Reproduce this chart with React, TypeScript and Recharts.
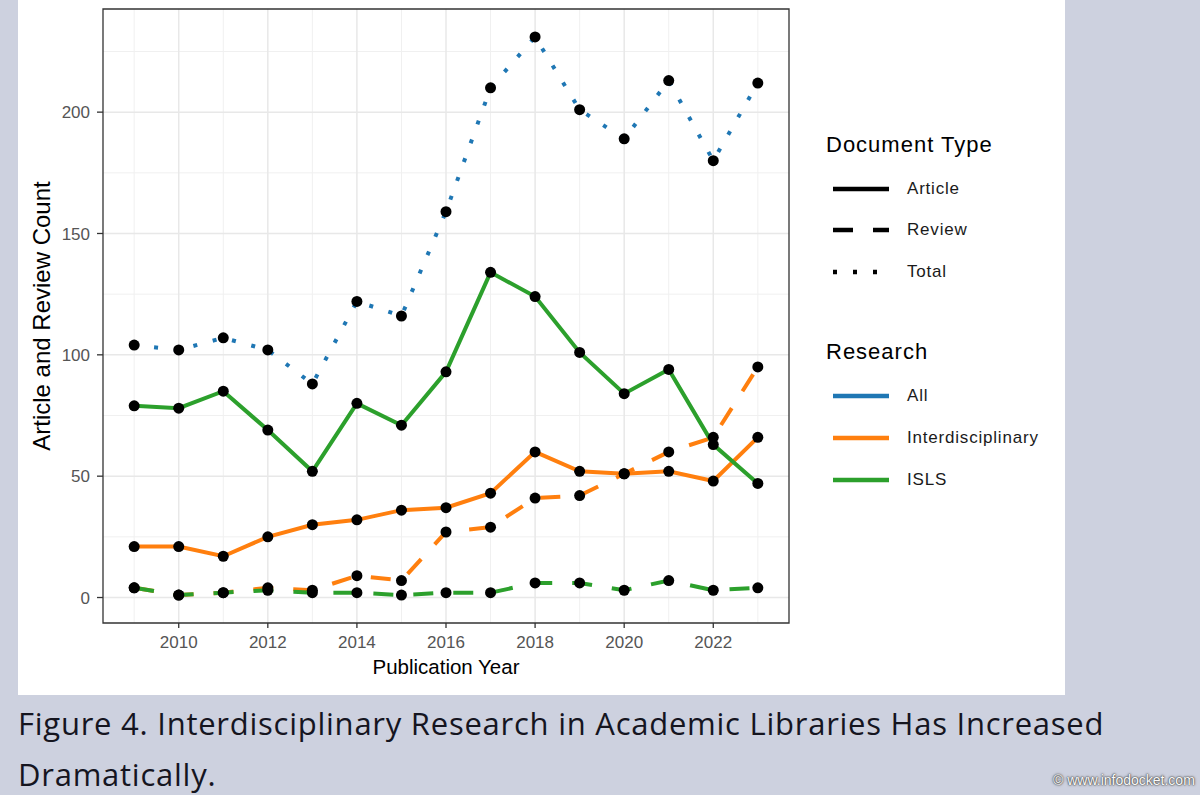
import React from "react";
import {
  CartesianGrid,
  ComposedChart,
  Legend,
  Line,
  ReferenceArea,
  XAxis,
  YAxis,
} from "recharts";

const years = [2009, 2010, 2011, 2012, 2013, 2014, 2015, 2016, 2017, 2018, 2019, 2020, 2021, 2022, 2023];
const allTotal = [104, 102, 107, 102, 88, 122, 116, 159, 210, 231, 201, 189, 213, 180, 212];
const interArticle = [21, 21, 17, 25, 30, 32, 36, 37, 43, 60, 52, 51, 52, 48, 66];
const interReview = [4, 1, 2, 4, 3, 9, 7, 27, 29, 41, 42, 51, 60, 66, 95];
const islsArticle = [79, 78, 85, 69, 52, 80, 71, 93, 134, 124, 101, 84, 94, 63, 47];
const islsReview = [4, 1, 2, 3, 2, 2, 1, 2, 2, 6, 6, 3, 7, 3, 4];

const xTicks = [2010, 2012, 2014, 2016, 2018, 2020, 2022];
const xMinor = [2009, 2011, 2013, 2015, 2017, 2019, 2021, 2023];
const yTicks = [0, 50, 100, 150, 200];
const yMinor = [25, 75, 125, 175, 225];

const docTypes = ["Article", "Review", "Total"];
const researchGroups = ["All", "Interdisciplinary", "ISLS"];

const series = [
  { key: "allTotal", research: "All", doc: "Total" },
  { key: "interArticle", research: "Interdisciplinary", doc: "Article" },
  { key: "interReview", research: "Interdisciplinary", doc: "Review" },
  { key: "islsArticle", research: "ISLS", doc: "Article" },
  { key: "islsReview", research: "ISLS", doc: "Review" },
];

const rows = years.map((year, i) => ({
  year,
  allTotal: allTotal[i],
  interArticle: interArticle[i],
  interReview: interReview[i],
  islsArticle: islsArticle[i],
  islsReview: islsReview[i],
}));

// ggplot-ish limits (5% expansion)
const xDomain = [2008.3, 2023.7];
const yDomain = [-10.5, 242.5];

const COLORS: Record<string, string> = {
  All: "#1f77b4",
  Interdisciplinary: "#ff7f0e",
  ISLS: "#2ca02c",
};

const DASH: Record<string, string | undefined> = {
  Article: undefined,
  Review: "20 20",
  Total: "4 16",
};

const FONT = '"Liberation Sans", Arial, sans-serif';

function YTitle({ viewBox }: any) {
  const x = viewBox.x + 31.5;
  const y = viewBox.y + viewBox.height / 2;
  return (
    <text
      x={x}
      y={y}
      transform={`rotate(-90, ${x}, ${y})`}
      textAnchor="middle"
      fontSize={24}
      fontFamily={FONT}
      fill="#000"
    >
      Article and Review Count
    </text>
  );
}

function XTitle({ viewBox }: any) {
  return (
    <text
      x={viewBox.x + viewBox.width / 2}
      y={viewBox.y + 51}
      textAnchor="middle"
      fontSize={20.5}
      fontFamily={FONT}
      fill="#000"
    >
      Publication Year
    </text>
  );
}

function KeyLine({ color, dash }: { color: string; dash?: string }) {
  return (
    <svg width={56} height={30} style={{ position: "absolute", left: 7, top: 0 }}>
      <line x1={0} y1={15} x2={56} y2={15} stroke={color} strokeWidth={4.5} strokeDasharray={dash} />
    </svg>
  );
}

function LegendItem({ top, label, color, dash }: any) {
  return (
    <div style={{ position: "absolute", left: 0, top, width: 240, height: 30 }}>
      <KeyLine color={color} dash={dash} />
      <span
        style={{
          position: "absolute",
          left: 81,
          top: 0,
          lineHeight: "30px",
          fontSize: 17,
          letterSpacing: 0.8,
          color: "#1a1a1a",
          whiteSpace: "nowrap",
        }}
      >
        {label}
      </span>
    </div>
  );
}

function LegendTitle({ top, text }: { top: number; text: string }) {
  return (
    <div
      style={{
        position: "absolute",
        left: 0,
        top,
        lineHeight: "30px",
        fontSize: 22,
        letterSpacing: 1,
        color: "#000",
        whiteSpace: "nowrap",
      }}
    >
      {text}
    </div>
  );
}

function ChartLegend() {
  return (
    <div style={{ position: "relative", width: 240, height: 380, fontFamily: FONT }}>
      <LegendTitle top={10} text="Document Type" />
      {docTypes.map((d, i) => (
        <LegendItem key={d} top={53.5 + i * 41.5} label={d} color="#000" dash={DASH[d]} />
      ))}
      <LegendTitle top={217} text="Research" />
      {researchGroups.map((r, i) => (
        <LegendItem key={r} top={261 + i * 42} label={r} color={COLORS[r]} />
      ))}
    </div>
  );
}

export default function App() {
  return (
    <div
      style={{
        position: "absolute",
        left: 0,
        top: 0,
        width: 1200,
        height: 795,
        background: "#cdd1df",
        overflow: "hidden",
      }}
    >
      <div style={{ position: "absolute", left: 18, top: 0, width: 1047, height: 695, background: "#fff" }}>
        <ComposedChart
          width={1047}
          height={695}
          data={rows}
          margin={{ top: 9, right: 276, bottom: 0, left: 0 }}
        >
          <CartesianGrid
            horizontalValues={yMinor}
            verticalValues={xMinor}
            stroke="#f0f0f0"
            strokeWidth={1}
          />
          <CartesianGrid
            horizontalValues={yTicks}
            verticalValues={xTicks}
            stroke="#e8e8e8"
            strokeWidth={1.5}
          />
          <XAxis
            dataKey="year"
            type="number"
            domain={xDomain}
            ticks={xTicks}
            allowDataOverflow
            height={72}
            axisLine={false}
            tickSize={5}
            tickMargin={8}
            tickLine={{ stroke: "#333", strokeWidth: 1.3 }}
            tick={{ fill: "#555", fontSize: 17, fontFamily: FONT }}
            label={{ content: XTitle }}
          />
          <YAxis
            type="number"
            domain={yDomain}
            ticks={yTicks}
            allowDataOverflow
            width={85}
            axisLine={false}
            tickSize={6}
            tickMargin={7}
            tickLine={{ stroke: "#333", strokeWidth: 1.3 }}
            tick={{ fill: "#555", fontSize: 17, fontFamily: FONT }}
            label={{ content: YTitle }}
          />
          <ReferenceArea
            x1={xDomain[0]}
            x2={xDomain[1]}
            y1={yDomain[0]}
            y2={yDomain[1]}
            fill="none"
            stroke="#333"
            strokeWidth={1.3}
            ifOverflow="visible"
          />
          {series.map((s) => (
            <Line
              key={s.key}
              dataKey={s.key}
              type="linear"
              stroke={COLORS[s.research]}
              strokeWidth={4}
              strokeDasharray={DASH[s.doc]}
              dot={false}
              activeDot={false}
              legendType="none"
              isAnimationActive={false}
            />
          ))}
          {series.map((s) => (
            <Line
              key={`${s.key}-pts`}
              dataKey={s.key}
              type="linear"
              stroke="none"
              dot={{ r: 5.5, fill: "#000", stroke: "none" }}
              activeDot={false}
              legendType="none"
              isAnimationActive={false}
            />
          ))}
          <Legend
            layout="vertical"
            align="center"
            verticalAlign="middle"
            content={() => <ChartLegend />}
            wrapperStyle={{ left: 808, top: 120, width: 240, height: 380 }}
          />
        </ComposedChart>
      </div>
      <div
        style={{
          position: "absolute",
          left: 18,
          top: 698,
          fontFamily: '"Open Sans", sans-serif',
          fontSize: 31,
          lineHeight: "51px",
          letterSpacing: 0.75,
          color: "#15151f",
          width: 1170,
          whiteSpace: "nowrap",
        }}
      >
        Figure 4. Interdisciplinary Research in Academic Libraries Has Increased
        <br />
        Dramatically.
      </div>
      <div
        style={{
          position: "absolute",
          left: 1053,
          top: 772,
          fontFamily: FONT,
          fontSize: 14,
          lineHeight: "16px",
          color: "#fafafa",
          textShadow: "0 0 1px #444, 0 0 2px #444, 0 0 3px #777",
          whiteSpace: "nowrap",
        }}
      >
        © www.infodocket.com
      </div>
    </div>
  );
}
